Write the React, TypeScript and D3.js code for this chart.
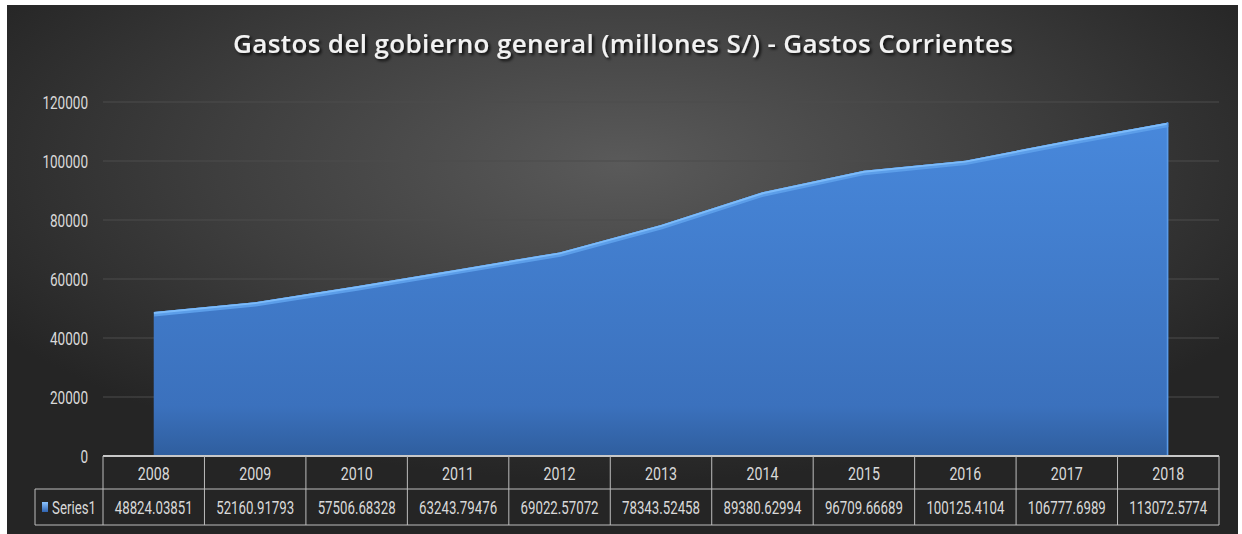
import React from "react";
import * as d3 from "d3";

const years = ["2008","2009","2010","2011","2012","2013","2014","2015","2016","2017","2018"];
const values = [48824.03851,52160.91793,57506.68328,63243.79476,69022.57072,78343.52458,89380.62994,96709.66689,100125.4104,106777.6989,113072.5774];
const valueLabels = ["48824.03851","52160.91793","57506.68328","63243.79476","69022.57072","78343.52458","89380.62994","96709.66689","100125.4104","106777.6989","113072.5774"];
const yTicks = [0,20000,40000,60000,80000,100000,120000];
const seriesName = "Series1";
const title = "Gastos del gobierno general (millones S/) - Gastos Corrientes";

const W = 1242, H = 534;
const plotL = 103, plotR = 1219, plotT = 102, plotB = 456;
const row1B = 489, row2B = 525, tableL = 35;
const font = "Roboto, sans-serif";
const FS = 19;

let ctx: CanvasRenderingContext2D | null = null;
function measure(s: string) {
  if (!ctx) ctx = document.createElement("canvas").getContext("2d");
  if (!ctx) return s.length * 10;
  ctx.font = `${FS}px Roboto`;
  return ctx.measureText(s).width;
}

function NarrowText(props: { x: number; y: number; w: number; anchor: "start" | "middle" | "end"; children: string; fill: string }) {
  const sx = props.w / measure(props.children);
  return (
    <text transform={`translate(${props.x},${props.y}) scale(${sx},1)`} dy="0.35em" textAnchor={props.anchor}
      fill={props.fill} fontFamily={font} fontSize={FS}>{props.children}</text>
  );
}

export default function App() {
  React.useEffect(() => { document.body.style.margin = "0"; }, []);
  const x = d3.scaleBand<string>().domain(years).range([plotL, plotR]);
  const y = d3.scaleLinear().domain([0, 120000]).range([plotB, plotT]);
  const bw = x.bandwidth();
  const cx = (i: number) => (x(years[i]) as number) + bw / 2;
  const pts = values.map((v, i) => [cx(i), y(v)] as [number, number]);
  const area = d3.area<[number, number]>().x(d => d[0]).y0(plotB).y1(d => d[1])(pts) as string;
  const line = d3.line<[number, number]>().x(d => d[0]).y(d => d[1])(pts) as string;
  const textCol = "#d9d9d9";
  const border = "#bdbdbd";
  return (
    <svg width={W} height={H} style={{ display: "block" }}>
      <defs>
        <radialGradient id="bg" cx="50%" cy="30%" r="60%">
          <stop offset="0" stopColor="#5a5a5a" />
          <stop offset="0.55" stopColor="#3e3e3e" />
          <stop offset="1" stopColor="#252525" />
        </radialGradient>
        <linearGradient id="af" x1="0" y1="0" x2="0" y2="1">
          <stop offset="0" stopColor="#4888db" />
          <stop offset="0.85" stopColor="#3b71bd" />
          <stop offset="1" stopColor="#2f5e9e" />
        </linearGradient>
        <linearGradient id="key" x1="0" y1="0" x2="0" y2="1">
          <stop offset="0" stopColor="#8cc4ff" />
          <stop offset="1" stopColor="#2f63b0" />
        </linearGradient>
        <clipPath id="ac"><path d={area} /></clipPath>
        <filter id="ts" x="-5%" y="-30%" width="110%" height="160%">
          <feDropShadow dx="2" dy="2" stdDeviation="1.5" floodColor="#000" floodOpacity="0.85" />
        </filter>
      </defs>
      <rect x={0} y={0} width={W} height={H} fill="#fff" />
      <rect x={7} y={5} width={1231} height={H - 5} fill="url(#bg)" />
      <text x={233} y={53} textAnchor="start" fill="#f2f2f2" fontFamily="'Open Sans', Lato, sans-serif"
        fontWeight={600} fontSize={26} textLength={780} lengthAdjust="spacing" filter="url(#ts)">{title}</text>
      {yTicks.map(t => {
        const s = String(t);
        return (
          <g key={t}>
            {t > 0 && <line x1={plotL} x2={plotR} y1={y(t)} y2={y(t)} stroke="#4d4d4d" strokeWidth={1} />}
            <NarrowText x={88} y={y(t)} w={s.length * 7.6} anchor="end" fill={textCol}>{s}</NarrowText>
          </g>
        );
      })}
      <path d={area} fill="url(#af)" />
      <g clipPath="url(#ac)">
        <path d={line} fill="none" stroke="#5c9ee9" strokeWidth={9} />
        <path d={line} fill="none" stroke="#7cbbfa" strokeWidth={4} />
        <line x1={cx(10)} x2={cx(10)} y1={plotT} y2={plotB} stroke="#5a9be8" strokeWidth={3} />
      </g>
      <line x1={plotL} x2={plotR} y1={plotB} y2={plotB} stroke="#c8c8c8" strokeWidth={2} />
      <line x1={tableL} x2={plotR} y1={row1B} y2={row1B} stroke={border} strokeWidth={1} />
      <line x1={tableL} x2={plotR} y1={row2B} y2={row2B} stroke={border} strokeWidth={1} />
      <line x1={tableL} x2={tableL} y1={row1B} y2={row2B} stroke={border} strokeWidth={1} />
      {years.map((yr) => (
        <line key={yr} x1={x(yr) as number} x2={x(yr) as number} y1={plotB} y2={row2B} stroke={border} strokeWidth={1} />
      ))}
      <line x1={plotR} x2={plotR} y1={plotB} y2={row2B} stroke={border} strokeWidth={1} />
      {years.map((yr, i) => (
        <g key={"t" + yr}>
          <NarrowText x={cx(i)} y={(plotB + row1B) / 2 + 1} w={32} anchor="middle" fill={textCol}>{yr}</NarrowText>
          <NarrowText x={cx(i)} y={(row1B + row2B) / 2} w={78} anchor="middle" fill={textCol}>{valueLabels[i]}</NarrowText>
        </g>
      ))}
      <rect x={42} y={502} width={6} height={10} fill="url(#key)" />
      <NarrowText x={52} y={(row1B + row2B) / 2} w={44} anchor="start" fill={textCol}>{seriesName}</NarrowText>
    </svg>
  );
}
